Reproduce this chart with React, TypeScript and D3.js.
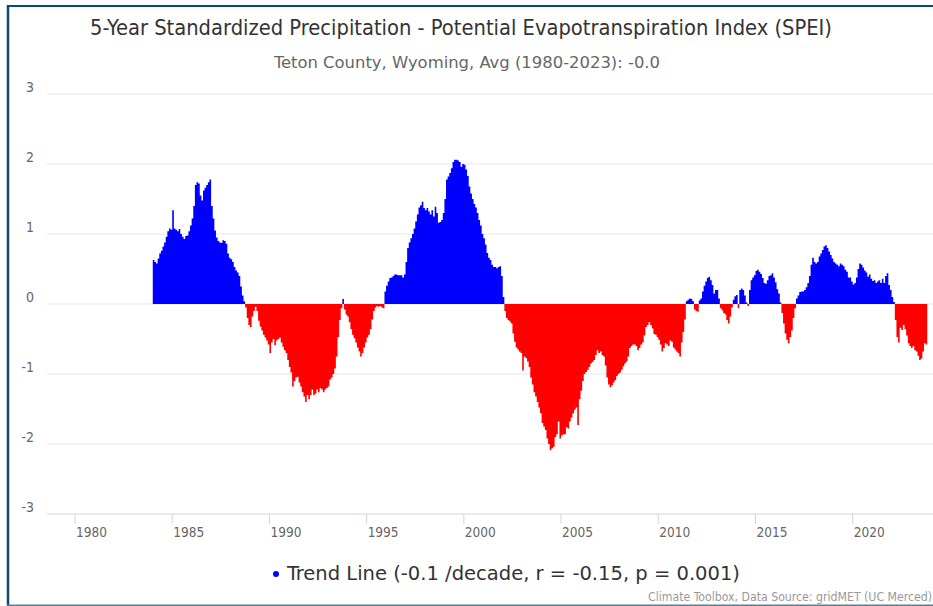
import React from "react";
import * as d3 from "d3";

// ---- Data (monthly 5-year SPEI, Teton County WY), starting Jan 1984 ----
const startYear = 1984;
const spei1984 = [0.63, 0.60, 0.58, 0.65, 0.72, 0.76, 0.82, 0.88, 0.96, 1.04, 1.08, 1.06];
const spei1985 = [1.34, 1.08, 1.06, 1.04, 1.07, 1.00, 0.96, 0.93, 0.97, 0.98, 1.04, 1.12];
const spei1986 = [1.22, 1.40, 1.70, 1.74, 1.72, 1.55, 1.48, 1.62, 1.66, 1.70, 1.74, 1.78];
const spei1987 = [1.40, 1.22, 1.05, 0.95, 0.90, 0.88, 0.87, 0.91, 0.90, 0.86, 0.72, 0.66];
const spei1988 = [0.64, 0.60, 0.53, 0.48, 0.45, 0.40, 0.25, 0.12, 0.04, -0.05, -0.20, -0.30];
const spei1989 = [-0.33, -0.18, -0.10, -0.04, -0.10, -0.24, -0.32, -0.38, -0.44, -0.48, -0.52, -0.58];
const spei1990 = [-0.70, -0.55, -0.50, -0.59, -0.52, -0.50, -0.48, -0.55, -0.61, -0.66, -0.70, -0.80];
const spei1991 = [-0.90, -0.98, -1.18, -1.10, -1.05, -1.04, -1.12, -1.18, -1.26, -1.32, -1.40, -1.30];
const spei1992 = [-1.36, -1.30, -1.22, -1.30, -1.28, -1.22, -1.26, -1.20, -1.22, -1.26, -1.22, -1.20];
const spei1993 = [-1.18, -1.08, -1.05, -1.00, -0.92, -0.75, -0.47, -0.23, -0.06, 0.07, -0.08, -0.15];
const spei1994 = [-0.18, -0.26, -0.36, -0.44, -0.49, -0.55, -0.62, -0.68, -0.75, -0.70, -0.62, -0.55];
const spei1995 = [-0.48, -0.44, -0.36, -0.22, -0.10, -0.05, -0.03, -0.04, -0.03, -0.05, -0.06, 0.18];
const spei1996 = [0.26, 0.32, 0.37, 0.38, 0.40, 0.42, 0.42, 0.41, 0.41, 0.41, 0.38, 0.42];
const spei1997 = [0.60, 0.80, 0.88, 0.94, 1.00, 1.08, 1.18, 1.28, 1.38, 1.41, 1.46, 1.37];
const spei1998 = [1.34, 1.37, 1.32, 1.28, 1.34, 1.25, 1.39, 1.30, 1.16, 1.17, 1.20, 1.30];
const spei1999 = [1.50, 1.78, 1.82, 1.87, 1.94, 2.03, 2.06, 2.06, 2.05, 2.03, 1.96, 2.00];
const spei2000 = [1.99, 1.92, 1.83, 1.68, 1.58, 1.50, 1.43, 1.38, 1.30, 1.20, 1.12, 1.00];
const spei2001 = [0.94, 0.85, 0.73, 0.66, 0.63, 0.56, 0.53, 0.53, 0.51, 0.53, 0.54, 0.40];
const spei2002 = [0.10, -0.10, -0.20, -0.23, -0.25, -0.28, -0.42, -0.54, -0.62, -0.65, -0.68, -0.70];
const spei2003 = [-0.95, -0.75, -0.77, -0.82, -0.90, -1.05, -1.15, -1.26, -1.32, -1.40, -1.48, -1.56];
const spei2004 = [-1.70, -1.75, -1.80, -1.92, -2.00, -2.09, -2.06, -2.04, -1.90, -1.86, -1.68, -1.92];
const spei2005 = [-1.88, -1.86, -1.86, -1.76, -1.78, -1.68, -1.62, -1.56, -1.51, -1.48, -1.73, -1.36];
const spei2006 = [-1.24, -1.10, -1.00, -0.97, -0.94, -0.90, -0.85, -0.83, -0.80, -0.73, -0.66, -0.70];
const spei2007 = [-0.68, -0.73, -0.75, -0.88, -1.05, -1.15, -1.19, -1.16, -1.12, -1.09, -1.03, -1.00];
const spei2008 = [-0.98, -0.94, -0.89, -0.85, -0.82, -0.75, -0.63, -0.60, -0.58, -0.58, -0.60, -0.66];
const spei2009 = [-0.63, -0.58, -0.55, -0.45, -0.33, -0.30, -0.26, -0.30, -0.35, -0.43, -0.44, -0.47];
const spei2010 = [-0.51, -0.58, -0.68, -0.63, -0.56, -0.58, -0.60, -0.52, -0.54, -0.62, -0.65, -0.68];
const spei2011 = [-0.70, -0.75, -0.55, -0.40, -0.22, 0.04, 0.06, 0.08, 0.07, 0.04, -0.08, -0.10];
const spei2012 = [-0.11, 0.05, 0.08, 0.18, 0.26, 0.32, 0.37, 0.39, 0.34, 0.27, 0.15, 0.20];
const spei2013 = [0.20, 0.08, -0.06, -0.09, -0.13, -0.15, -0.23, -0.28, -0.18, -0.05, 0.06, 0.11];
const spei2014 = [0.13, -0.06, 0.20, 0.22, 0.20, 0.12, 0.02, -0.03, 0.20, 0.34, 0.38, 0.41];
const spei2015 = [0.47, 0.49, 0.46, 0.43, 0.37, 0.30, 0.29, 0.34, 0.40, 0.41, 0.44, 0.38];
const spei2016 = [0.31, 0.21, 0.15, 0.02, -0.13, -0.28, -0.42, -0.51, -0.56, -0.47, -0.38, -0.20];
const spei2017 = [-0.06, 0.08, 0.12, 0.17, 0.18, 0.18, 0.20, 0.24, 0.30, 0.40, 0.56, 0.66];
const spei2018 = [0.60, 0.58, 0.60, 0.68, 0.72, 0.77, 0.82, 0.84, 0.80, 0.75, 0.70, 0.65];
const spei2019 = [0.60, 0.58, 0.56, 0.54, 0.58, 0.56, 0.54, 0.49, 0.46, 0.38, 0.38, 0.32];
const spei2020 = [0.28, 0.30, 0.38, 0.50, 0.58, 0.56, 0.52, 0.48, 0.45, 0.39, 0.42, 0.36];
const spei2021 = [0.33, 0.34, 0.30, 0.32, 0.34, 0.30, 0.36, 0.30, 0.40, 0.44, 0.27, 0.20];
const spei2022 = [0.10, 0.03, -0.23, -0.47, -0.55, -0.34, -0.37, -0.30, -0.36, -0.45, -0.56, -0.60];
const spei2023 = [-0.63, -0.60, -0.66, -0.68, -0.74, -0.80, -0.78, -0.68, -0.56, -0.58];

const yearlySeries = [
  spei1984, spei1985, spei1986, spei1987, spei1988, spei1989, spei1990, spei1991,
  spei1992, spei1993, spei1994, spei1995, spei1996, spei1997, spei1998, spei1999,
  spei2000, spei2001, spei2002, spei2003, spei2004, spei2005, spei2006, spei2007,
  spei2008, spei2009, spei2010, spei2011, spei2012, spei2013, spei2014, spei2015,
  spei2016, spei2017, spei2018, spei2019, spei2020, spei2021, spei2022, spei2023,
];

const xTickYears = [1980, 1985, 1990, 1995, 2000, 2005, 2010, 2015, 2020];
const yTickValues = [3, 2, 1, 0, -1, -2, -3];

const titleText = "5-Year Standardized Precipitation - Potential Evapotranspiration Index (SPEI)";
const subtitleText = "Teton County, Wyoming, Avg (1980-2023): -0.0";
const legendText = "Trend Line (-0.1 /decade, r = -0.15, p = 0.001)";
const creditsText = "Climate Toolbox, Data Source: gridMET (UC Merced)";

// ---- Layout ----
const W = 933;
const H = 606;
const plotLeft = 47;
const plotRight = 933;
const FONT = '"Liberation Sans Narrow", "DejaVu Sans Condensed", "Liberation Sans", sans-serif';

type Pt = { t: number; v: number };

export default function App() {
  const points: Pt[] = [];
  yearlySeries.forEach((arr, yi) => {
    arr.forEach((v, m) => points.push({ t: startYear + yi + m / 12, v }));
  });
  const last = points[points.length - 1];
  const stepPoints = [...points, { t: last.t + 1 / 12, v: last.v }];

  const x = d3.scaleLinear().domain([1980, 2020]).range([75, 852.7]);
  const y = d3.scaleLinear().domain([-3, 3]).range([514, 94]);
  const y0 = y(0);

  const area = d3
    .area<Pt>()
    .x((d) => x(d.t))
    .y0(y0)
    .y1((d) => y(d.v))
    .curve(d3.curveStepAfter);
  const areaPath = area(stepPoints) || "";

  return (
    <svg
      width={W}
      height={H}
      viewBox={`0 0 ${W} ${H}`}
      style={{ position: "absolute", left: 0, top: 0, background: "#fff" }}
      fontFamily={FONT}
    >
      <rect x={0} y={0} width={W} height={H} fill="#fff" />
      <defs>
        <clipPath id="clipPos">
          <rect x={plotLeft} y={0} width={plotRight - plotLeft} height={y0} />
        </clipPath>
        <clipPath id="clipNeg">
          <rect x={plotLeft} y={y0} width={plotRight - plotLeft} height={H - y0} />
        </clipPath>
      </defs>

      {/* frame */}
      <line x1={8} x2={8} y1={5} y2={606} stroke="#0b4a70" strokeWidth={2.5} />
      <line x1={7} x2={W} y1={6} y2={6} stroke="#0b4a70" strokeWidth={2} />
      <line x1={7} x2={W} y1={605.3} y2={605.3} stroke="#5f7f90" strokeWidth={1.5} />

      {/* title */}
      <text x={90} y={35} fontSize={21} fill="#333" textLength={742} lengthAdjust="spacingAndGlyphs">
        {titleText}
      </text>
      <text x={274} y={68} fontSize={15} fill="#666" textLength={386} lengthAdjust="spacingAndGlyphs">
        {subtitleText}
      </text>

      {/* gridlines */}
      {yTickValues
        .filter((v) => v !== -3)
        .map((v) => (
          <line key={`g${v}`} x1={plotLeft} x2={plotRight} y1={y(v)} y2={y(v)} stroke="#e6e6e6" strokeWidth={1} />
        ))}
      {yTickValues.map((v) => (
        <text key={`yl${v}`} x={34} y={y(v) - 2} fontSize={14} fill="#666" textAnchor="end">
          {v}
        </text>
      ))}

      {/* series */}
      <path d={areaPath} fill="#0000ff" clipPath="url(#clipPos)" />
      <path d={areaPath} fill="#ff0000" clipPath="url(#clipNeg)" />

      {/* x axis */}
      <line x1={plotLeft} x2={plotRight} y1={y(-3)} y2={y(-3)} stroke="#ccd6eb" strokeWidth={1} />
      {xTickYears.map((yr) => (
        <g key={`xt${yr}`}>
          <line x1={x(yr)} x2={x(yr)} y1={y(-3)} y2={y(-3) + 10} stroke="#ccd6eb" strokeWidth={1} />
          <text x={x(yr) + 1} y={537} fontSize={14.5} fill="#666" textLength={31} lengthAdjust="spacingAndGlyphs">
            {yr}
          </text>
        </g>
      ))}

      {/* legend */}
      <circle cx={276} cy={574} r={3} fill="#0000ff" />
      <text x={287} y={580} fontSize={20} fill="#333" textLength={453} lengthAdjust="spacingAndGlyphs">
        {legendText}
      </text>

      {/* credits */}
      <text x={932} y={601} fontSize={12} fill="#999" textAnchor="end" textLength={284} lengthAdjust="spacingAndGlyphs">
        {creditsText}
      </text>
    </svg>
  );
}
